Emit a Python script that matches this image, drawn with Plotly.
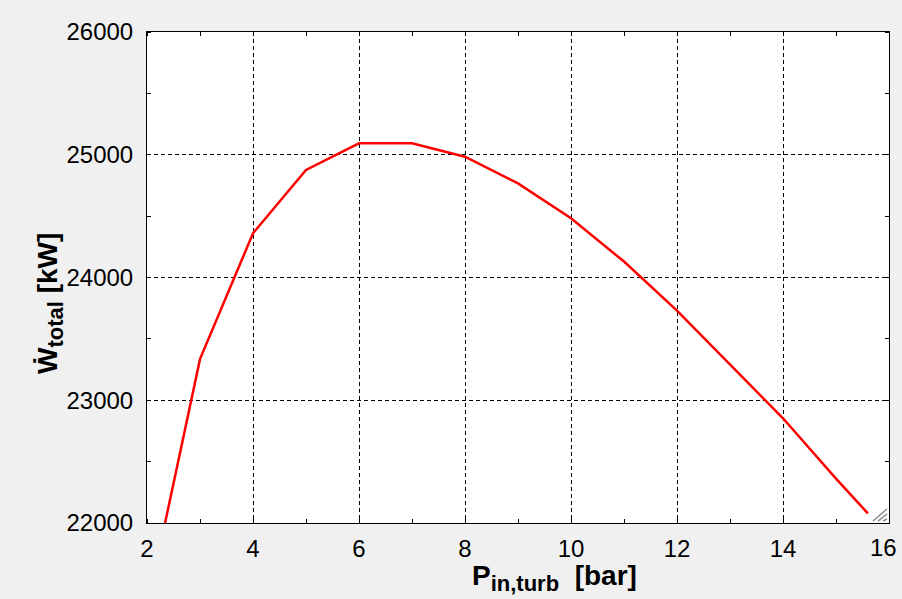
import plotly.graph_objects as go

# Turbine inlet pressure [bar] and total net power [kW]
p_in_turb = [2, 3, 4, 5, 6, 7, 8, 9, 10, 11, 12, 13, 14, 15, 15.6]
w_total = [21310, 23335, 24360, 24876, 25093, 25093, 24984, 24767, 24482,
           24130, 23730, 23290, 22853, 22361, 22079]

x_ticks = [2, 4, 6, 8, 10, 12, 14, 16]
y_ticks = [22000, 23000, 24000, 25000, 26000]

FONT = "Liberation Sans, Arial, sans-serif"
TICK_FONT = dict(family=FONT, size=24, color="black")

fig = go.Figure()
fig.add_trace(go.Scatter(
    x=p_in_turb, y=w_total, mode="lines",
    line=dict(color="#ff0000", width=2.5),
    showlegend=False, hoverinfo="skip",
))

axis_common = dict(
    showline=True, linecolor="black", linewidth=1, mirror="ticks",
    showgrid=True, gridcolor="black", gridwidth=1, griddash="4px,3px",
    ticks="", zeroline=False, automargin=False,
    tickfont=TICK_FONT,
)

# the last x label is drawn separately, pulled in from the page edge
x_labels = [str(v) for v in x_ticks]
x_labels[-1] = ""

fig.update_xaxes(
    range=[2, 16], tickvals=x_ticks, ticktext=x_labels,
    minor=dict(dtick=1, tick0=2, ticks="inside", ticklen=4, tickcolor="black",
               showgrid=False),
    ticklabelstandoff=4,
    **axis_common,
)
fig.update_yaxes(
    range=[22000, 26000], tickvals=y_ticks, ticktext=[str(v) for v in y_ticks],
    minor=dict(dtick=500, tick0=22000, ticks="inside", ticklen=4, tickcolor="black",
               showgrid=False),
    ticklabelstandoff=8,
    **axis_common,
)

fig.add_annotation(
    text=str(x_ticks[-1]), xref="x", yref="paper", x=x_ticks[-1], y=0,
    xanchor="right", yanchor="top", xshift=10, yshift=-9,
    showarrow=False, font=TICK_FONT,
)

# Axis titles
fig.add_annotation(
    text="<b>P<sub><span style='font-size:22px'>in,turb</span></sub>\u00a0\u00a0[bar]</b>",
    xref="paper", yref="paper", x=0.549, y=-0.112, yanchor="middle", xanchor="center",
    showarrow=False, font=dict(family=FONT, size=28, color="black"),
)
fig.add_annotation(
    text="<b>\u1e86<sub><span style='font-size:22px'>total</span></sub> [kW]</b>",
    xref="paper", yref="paper", x=-0.1314, y=0.447, xanchor="center", yanchor="middle",
    textangle=-90, showarrow=False, font=dict(family=FONT, size=28, color="black"),
)

# Resize grip in the lower-right corner
pw, ph = 742, 491
for d in (6, 11, 16):
    fig.add_shape(type="line", xref="paper", yref="paper",
                  x0=1 - d / pw, y0=0.004, x1=1 - 2 / pw, y1=(d - 2) / ph,
                  line=dict(color="#8a8a8a", width=1.5))

fig.update_layout(
    width=902, height=599,
    margin=dict(l=147, r=13, t=32, b=76, autoexpand=False),
    paper_bgcolor="#f0f0f0", plot_bgcolor="white",
    font=dict(family=FONT, color="black"),
)

fig.write_html("out.html")
